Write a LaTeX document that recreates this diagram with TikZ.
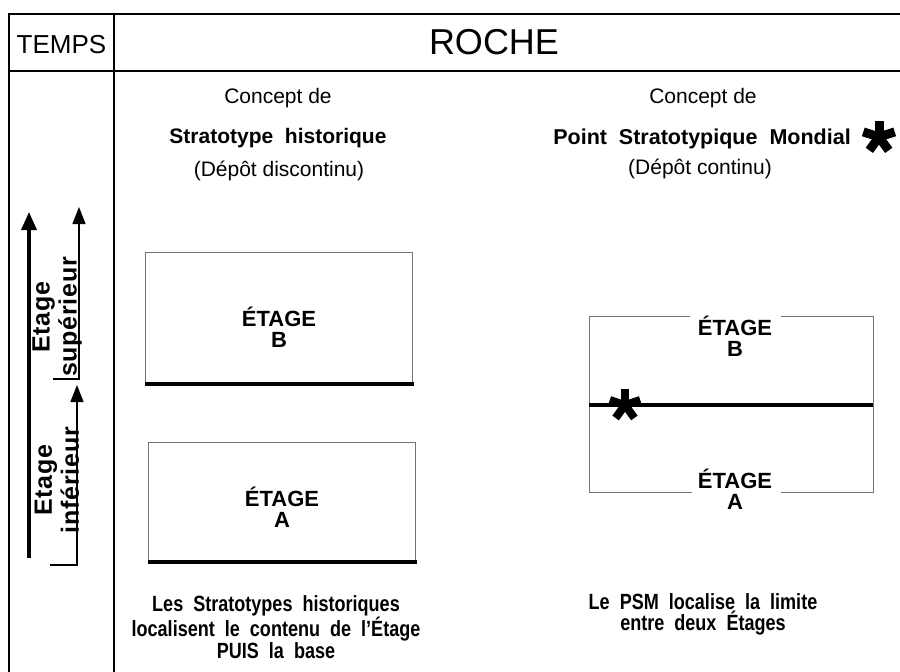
\documentclass[tikz,border=0pt]{standalone}
\usepackage{fontspec}
\setmainfont{Liberation Sans}
\newfontfamily\condfont[FakeStretch=0.82,WordSpace=2]{Liberation Sans}
\newfontfamily\trackfont[LetterSpace=3]{Liberation Sans}
\usetikzlibrary{arrows.meta}
\tikzset{
  frame/.style={line width=2pt, black},
  thinbox/.style={line width=0.9pt, black!55},
  base/.style={line width=3.2pt, black},
  txt/.style={inner sep=0pt, anchor=base},
  etiq/.style={txt, font=\bfseries\fontsize{22}{21}\selectfont, align=center},
  bottxt/.style={txt, font=\condfont\bfseries\fontsize{22}{20.5}\selectfont, align=center},
  vlab/.style={inner sep=0pt, rotate=90, align=center, font=\trackfont\bfseries\fontsize{25}{27}\selectfont},
  bigarrow/.style={line width=3.5pt, -{Triangle[length=18pt,width=15pt]}},
  smallarrow/.style={line width=1.4pt, -{Triangle[length=17pt,width=13pt]}},
  astarm/.style={line width=7pt, line cap=butt},
}
\newcommand{\astre}[3]{%
  \foreach \ang in {270,198,342,126,54} {\draw[astarm, line width=#3] (#1) -- ++(\ang:#2);}%
}
\begin{document}
\begin{tikzpicture}[x=1pt,y=-1pt]
\useasboundingbox (0,0) rectangle (900,672);
% frame
\coordinate (tl) at (9,14);
\coordinate (tr) at (900,14);
\coordinate (hl) at (9,71);
\coordinate (hr) at (900,71);
\coordinate (bl) at (9,672);
\coordinate (dt) at (114,14);
\coordinate (db) at (114,672);
\draw[frame] (tr) -- (tl) -- (bl);
\draw[frame] (hl) -- (hr);
\draw[frame] (dt) -- (db);
% headers
\node[txt, font=\fontsize{26}{28}\selectfont] (temps) at (61.5,53) {TEMPS};
\node[txt, font=\fontsize{36}{38}\selectfont] (roche) at (494,54) {ROCHE};
% left column titles
\node[txt, font=\fontsize{21}{24}\selectfont] (c1) at (278,103) {Concept de};
\node[txt, font=\bfseries\fontsize{21}{24}\selectfont] (s1) at (278,143) {Stratotype\ \ historique};
\node[txt, font=\fontsize{21}{24}\selectfont] (d1) at (279,176) {(Dépôt discontinu)};
% right column titles
\node[txt, font=\fontsize{21}{24}\selectfont] (c2) at (703,103) {Concept de};
\node[txt, font=\bfseries\fontsize{21.5}{24}\selectfont] (s2) at (702,144) {Point\ \ Stratotypique\ \ Mondial};
\node[txt, font=\fontsize{21}{24}\selectfont] (d2) at (700,174) {(Dépôt continu)};
\coordinate (bigast) at (879,137);
\astre{bigast}{16.5}{9pt}
% time column
\coordinate (bigbot) at (29,558);
\coordinate (bigtop) at (29,212);
\draw[bigarrow] (bigbot) -- (bigtop);
\coordinate (supk) at (53,379);
\coordinate (supb) at (79,379);
\coordinate (supt) at (79,207);
\draw[smallarrow] (supk) -- (supb) -- (supt);
\coordinate (infk) at (50,565);
\coordinate (infb) at (77,565);
\coordinate (inft) at (77,385);
\draw[smallarrow] (infk) -- (infb) -- (inft);
\node[vlab] (labsup) at (57,317) {Etage\\supérieur};
\node[vlab] (labinf) at (57,480) {Etage\\inférieur};
% left boxes
\draw[thinbox] (145,384) -- (145,252) -- (412,252) -- (412,384);
\draw[base] (145,384) -- (414,384);
\node[etiq] (eb1) at (279,347) {ÉTAGE\\B};
\draw[thinbox] (148,562) -- (148,442) -- (415,442) -- (415,562);
\draw[base] (148,562) -- (417,562);
\node[etiq] (ea1) at (282,527) {ÉTAGE\\A};
% right box
\draw[thinbox] (690,316) -- (589,316) -- (589,492) -- (692,492);
\draw[thinbox] (781,316) -- (873,316) -- (873,492) -- (781,492);
\draw[base] (589,405) -- (873,405);
\node[etiq] (eb2) at (735,356) {ÉTAGE\\B};
\node[etiq] (ea2) at (735,509) {ÉTAGE\\A};
\coordinate (smallast) at (625,405);
\astre{smallast}{16}{8pt}
% bottom texts
\node[bottxt] (bt1) at (276,658) {Les Stratotypes historiques\\localisent le contenu de l’Étage\\PUIS la base};
\node[bottxt] (bt2) at (703,630) {Le PSM localise la limite\\entre deux Étages};
\end{tikzpicture}
\end{document}
